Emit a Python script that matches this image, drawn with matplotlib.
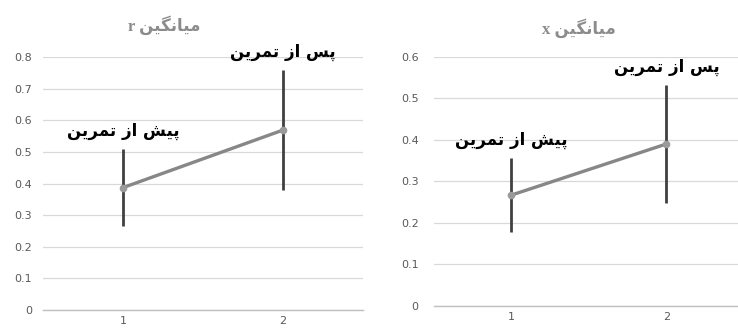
import matplotlib
matplotlib.use("Agg")
import matplotlib.pyplot as plt

# ---------------- data ----------------
x_labels = ["1", "2"]
r_means = [0.387, 0.569]
r_errs = [0.121, 0.190]
x_means = [0.267, 0.390]
x_errs = [0.089, 0.142]
point_labels = ["پیش از تمرین", "پس از تمرین"]
title_r = "میانگین r"
title_x = "میانگین x"
r_ticks = [0, 0.1, 0.2, 0.3, 0.4, 0.5, 0.6, 0.7, 0.8]
x_ticks = [0, 0.1, 0.2, 0.3, 0.4, 0.5, 0.6]

# ---------- minimal Persian shaping (presentation forms + RTL order) ----------
FORMS = {
    "ا": (0xFE8D, 0xFE8E, None, None),
    "ز": (0xFEAF, 0xFEB0, None, None),
    "ر": (0xFEAD, 0xFEAE, None, None),
    "پ": (0xFB56, 0xFB57, 0xFB58, 0xFB59),
    "ی": (0xFBFC, 0xFBFD, 0xFBFE, 0xFBFF),
    "ش": (0xFEB5, 0xFEB6, 0xFEB7, 0xFEB8),
    "ت": (0xFE95, 0xFE96, 0xFE97, 0xFE98),
    "م": (0xFEE1, 0xFEE2, 0xFEE3, 0xFEE4),
    "ن": (0xFEE5, 0xFEE6, 0xFEE7, 0xFEE8),
    "س": (0xFEB1, 0xFEB2, 0xFEB3, 0xFEB4),
    "گ": (0xFB92, 0xFB93, 0xFB94, 0xFB95),
}


def shape(text):
    out = []
    n = len(text)
    for i, ch in enumerate(text):
        if ch not in FORMS:
            out.append(ch)
            continue
        f = FORMS[ch]
        dual = f[2] is not None
        prev = text[i - 1] if i > 0 else None
        nxt = text[i + 1] if i < n - 1 else None
        jp = prev in FORMS and FORMS[prev][2] is not None
        jn = dual and nxt in FORMS
        if jp and jn:
            code = f[3]
        elif jp:
            code = f[1]
        elif jn:
            code = f[2]
        else:
            code = f[0]
        out.append(chr(code))
    return "".join(reversed(out))


GRID = "#d9d9d9"
TICK = "#595959"
LINE = "#878787"
ERR = "#404040"
TITLE = "#8c8c8c"

fig = plt.figure(figsize=(7.38, 3.31), dpi=100)

panels = [
    dict(rect=[0.0583, 0.0634, 0.4336, 0.7644], means=r_means, errs=r_errs,
         ticks=r_ticks, ylim=0.8, title=title_r, tx=0.222, ty=0.925, pad=8),
    dict(rect=[0.588, 0.0755, 0.42, 0.7532], means=x_means, errs=x_errs,
         ticks=x_ticks, ylim=0.6, title=title_x, tx=0.785, ty=0.915, pad=11),
]

for p in panels:
    ax = fig.add_axes(p["rect"])
    xs = [1, 2]
    ax.errorbar(xs, p["means"], yerr=p["errs"], fmt="none", ecolor=ERR,
                elinewidth=2.0, capsize=0, zorder=3)
    ax.plot(xs, p["means"], color=LINE, lw=2.4, marker="o", ms=4.5,
            mfc="#9a9a9a", mec="#9a9a9a", zorder=4)
    for xv, m, e, lab in zip(xs, p["means"], p["errs"], point_labels):
        ax.annotate(shape(lab), xy=(xv, m + e), xytext=(0, 13),
                    textcoords="offset points", ha="center", va="center",
                    fontsize=12, fontweight="bold", color="black",
                    family=["DejaVu Sans"], zorder=5)
    ax.set_xlim(0.5, 2.5)
    ax.set_ylim(0, p["ylim"])
    ax.set_yticks(p["ticks"])
    ax.set_yticklabels([("%g" % t) for t in p["ticks"]])
    ax.set_xticks(xs)
    ax.set_xticklabels(x_labels)
    ax.yaxis.grid(True, color=GRID, lw=0.9)
    ax.set_axisbelow(True)
    for s in ["top", "right", "left"]:
        ax.spines[s].set_visible(False)
    ax.spines["bottom"].set_color("#bfbfbf")
    ax.spines["bottom"].set_linewidth(1.0)
    ax.tick_params(axis="both", length=0, colors=TICK, labelsize=8)
    ax.tick_params(axis="y", pad=p["pad"])
    ax.tick_params(axis="x", pad=4)
    fig.text(p["tx"], p["ty"], shape(p["title"]), ha="center", va="center",
             fontsize=12, fontweight="bold", color=TITLE,
             family=["Liberation Serif", "DejaVu Sans"])

fig.savefig("out.png", dpi=100)
